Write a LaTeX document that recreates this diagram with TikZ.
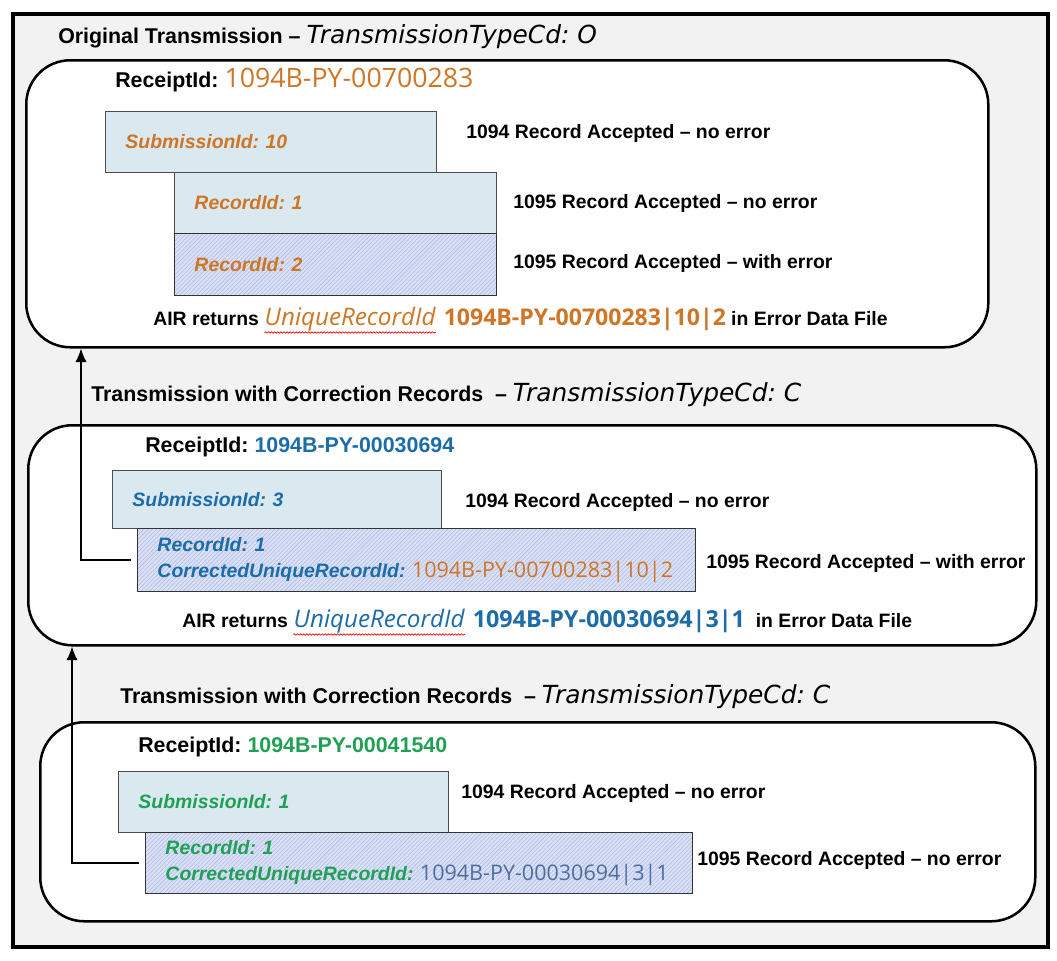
\documentclass[tikz,border=0pt]{standalone}
\usepackage{fontspec}
\setmainfont{Liberation Sans}
\newfontfamily\idfont{Open Sans}
\newfontfamily\typefont{DejaVu Sans}
\usepackage{xcolor}
\usetikzlibrary{patterns,arrows.meta,decorations.pathmorphing}

\definecolor{idorange}{RGB}{206,118,38}
\definecolor{idblue}{RGB}{28,108,168}
\definecolor{idgreen}{RGB}{32,160,84}
\definecolor{idgray}{RGB}{78,110,160}
\definecolor{boxfill}{RGB}{218,232,240}
\definecolor{hatchfill}{RGB}{218,225,246}
\definecolor{hatchline}{RGB}{178,188,228}
\definecolor{framefill}{RGB}{242,242,242}

\newcommand{\pxl}{0.025cm}
\newcommand{\titlesize}{\fontsize{15.2}{18}\selectfont}
\newcommand{\bodysize}{\fontsize{13.8}{19}\selectfont}
\newcommand{\typecd}[1]{{\typefont\mdseries\itshape\fontsize{17.7}{20}\selectfont #1}}
\frenchspacing

\begin{document}
\begin{tikzpicture}[
    x=\pxl, y=-\pxl,
    frame/.style={draw, line width=2.8pt, fill=framefill, anchor=north west, inner sep=0pt},
    panel/.style 2 args={draw, line width=1.8pt, rounded corners=1.1cm, fill=white, anchor=north west, inner sep=0pt, minimum width={#1*\pxl}, minimum height={#2*\pxl}},
    subbox/.style 2 args={draw=black!70, line width=0.7pt, fill=boxfill, anchor=north west, inner xsep={20*\pxl}, inner ysep=0pt, text width={(#1-40)*\pxl}, minimum height={#2*\pxl}, align=left, font=\bodysize\bfseries\itshape},
    hatchbox/.style 2 args={subbox={#1}{#2}, fill=hatchfill, postaction={pattern=north east lines, pattern color=hatchline}, postaction={draw=black!80, line width=0.7pt}},
    title/.style={anchor=west, font=\titlesize\bfseries, inner sep=0pt},
    note/.style={anchor=west, font=\bodysize\bfseries, inner sep=0pt},
    word/.style={anchor=base west, inner sep=0pt, font=\idfont\itshape\fontsize{17.2}{20}\selectfont},
    squiggle/.style={draw=red, line width=0.5pt, decorate, decoration={snake, amplitude=0.5pt, segment length=2.2pt}},
    link/.style={-{Latex[length=3.4mm,width=2.8mm]}, line width=0.8pt, shorten <=1.5mm}
]
\useasboundingbox (0,0) rectangle (1057,960);

\node [frame, minimum width={1035*\pxl}, minimum height={933*\pxl}] (frame) at (11,12) {};

\node [title] (title1) at (58,37) {Original Transmission – \typecd{TransmissionTypeCd: O}};
\node [panel={962}{287}] (panel1) at (25,59) {};
\node [title] (receipt1) at (115,80) {ReceiptId: {\idfont\mdseries\fontsize{19}{21}\selectfont\color{idorange}1094B-PY-00700283}};
\node [subbox={331}{61}, text=idorange] (sub1) at (105,111) {SubmissionId: 10};
\node [subbox={322}{61}, text=idorange] (rec1a) at (174,172) {RecordId: 1};
\node [hatchbox={322}{62}, text=idorange] (rec1b) at (174,233) {RecordId: 2};
\node [note] (note1a) at (466,133) {1094 Record Accepted – no error};
\node [note] (note1b) at (513,203) {1095 Record Accepted – no error};
\node [note] (note1c) at (513,263) {1095 Record Accepted – with error};
\node [note, anchor=base west] (air1) at (153,325) {AIR returns};
\node [word, text=idorange] (uniq1) at ([xshift=1.3mm]air1.base east) {UniqueRecordId};
\node [note, anchor=base west] (file1) at ([xshift=1.9mm]uniq1.base east) {{\idfont\bfseries\fontsize{16.4}{20}\selectfont\color{idorange}1094B-PY-00700283|10|2} in Error Data File};
\draw [squiggle] ([yshift=-1pt]uniq1.south west) -- ([yshift=-1pt]uniq1.south east);

\node [title] (title2) at (91,395) {Transmission with Correction Records~ – \typecd{TransmissionTypeCd: C}};
\node [panel={1008}{220}] (panel2) at (27,424) {};
\node [title] (receipt2) at (145,447) {ReceiptId: \textcolor{idblue}{1094B-PY-00030694}};
\node [subbox={329}{58}, text=idblue] (sub2) at (112,470) {SubmissionId: 3};
\node [hatchbox={558}{63}, text=idblue] (rec2) at (137,528) {RecordId: 1\\CorrectedUniqueRecordId: {\idfont\mdseries\upshape\fontsize{15.3}{19}\selectfont\color{idorange}1094B-PY-00700283|10|2}};
\node [note] (note2a) at (465,502) {1094 Record Accepted – no error};
\node [note] (note2b) at (706,563) {1095 Record Accepted – with error};
\node [note, anchor=base west] (air2) at (182,627) {AIR returns};
\node [word, text=idblue] (uniq2) at ([xshift=1.3mm]air2.base east) {UniqueRecordId};
\node [note, anchor=base west] (file2) at ([xshift=1.9mm]uniq2.base east) {{\idfont\bfseries\fontsize{16.6}{20}\selectfont\color{idblue}1094B-PY-00030694|3|1}\ \ in Error Data File};
\draw [squiggle] ([yshift=-1pt]uniq2.south west) -- ([yshift=-1pt]uniq2.south east);

\node [title] (title3) at (120,697) {Transmission with Correction Records~ – \typecd{TransmissionTypeCd: C}};
\node [panel={995}{199}] (panel3) at (39,721) {};
\node [title] (receipt3) at (138,747) {ReceiptId: \textcolor{idgreen}{1094B-PY-00041540}};
\node [subbox={330}{61}, text=idgreen] (sub3) at (118,771) {SubmissionId: 1};
\node [hatchbox={547}{61}, text=idgreen] (rec3) at (145,832) {RecordId: 1\\CorrectedUniqueRecordId: {\idfont\mdseries\upshape\fontsize{15.3}{19}\selectfont\color{idgray}1094B-PY-00030694|3|1}};
\node [note] (note3a) at (461,793) {1094 Record Accepted – no error};
\node [note] (note3b) at (697,860) {1095 Record Accepted – no error};

\draw [link] (rec2.west) -| ([xshift={56*\pxl}]panel1.south west);
\draw [link] (rec3.west) -| ([xshift={45*\pxl}]panel2.south west);

\end{tikzpicture}
\end{document}
